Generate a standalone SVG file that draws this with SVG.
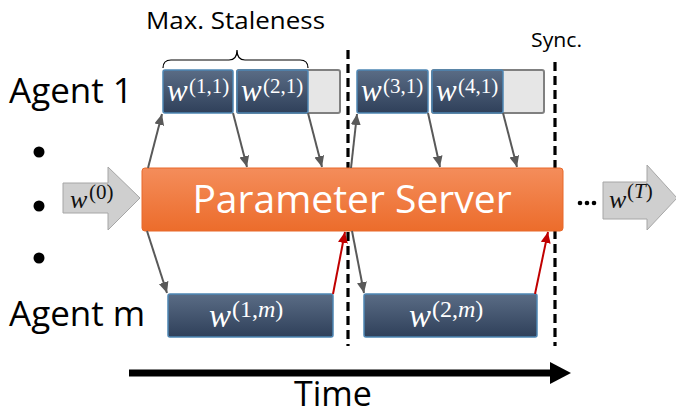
<svg xmlns="http://www.w3.org/2000/svg" width="676" height="416" viewBox="0 0 676 416">
  <defs>
    <linearGradient id="gBlue" x1="0" y1="0" x2="0" y2="1">
      <stop offset="0" stop-color="#5A6C85"/>
      <stop offset="1" stop-color="#2F405A"/>
    </linearGradient>
    <linearGradient id="gOrange" x1="0" y1="0" x2="0" y2="1">
      <stop offset="0" stop-color="#F48D5B"/>
      <stop offset="1" stop-color="#EC6C2B"/>
    </linearGradient>
    <marker id="hGray" markerUnits="userSpaceOnUse" markerWidth="12" markerHeight="11" refX="11" refY="5" orient="auto">
      <path d="M0,0 L11,5 L0,10 z" fill="#595959"/>
    </marker>
    <marker id="hRed" markerUnits="userSpaceOnUse" markerWidth="12" markerHeight="11" refX="11" refY="5" orient="auto">
      <path d="M0,0 L11,5 L0,10 z" fill="#C00000"/>
    </marker>
  </defs>
  <style>
    .lbl { font-family: "Open Sans", "Liberation Sans", sans-serif; fill: #000; }
    .box { fill: url(#gBlue); stroke: #4E86B4; stroke-width: 1.5; }
    .slot { fill: #E6E6E6; stroke: #808080; stroke-width: 2; }
    .mw { font-family: "Liberation Serif", "DejaVu Serif", serif; font-style: italic; fill: #FFFFFF; }
    .ms { font-family: "Liberation Serif", "DejaVu Serif", serif; fill: #FFFFFF; }
    .dark { fill: #111111; }
    .sync { stroke: #000; stroke-width: 3.2; stroke-dasharray: 9 5; fill: none; }
    .g { stroke: #595959; stroke-width: 2; fill: none; marker-end: url(#hGray); }
    .r { stroke: #C00000; stroke-width: 2; fill: none; marker-end: url(#hRed); }
    .big { fill: #CFCFCF; stroke: #A6A6A6; stroke-width: 1; }
  </style>

  <!-- side labels -->
  <text class="lbl" x="9" y="103" font-size="35">Agent 1</text>
  <text class="lbl" x="9" y="326" font-size="35">Agent m</text>
  <circle cx="39" cy="152" r="5.5" fill="#000"/>
  <circle cx="39" cy="206" r="5.5" fill="#000"/>
  <circle cx="39" cy="258" r="5.5" fill="#000"/>

  <!-- staleness window -->
  <text class="lbl" x="146" y="29" font-size="23" textLength="179" lengthAdjust="spacingAndGlyphs">Max. Staleness</text>
  <path d="M163,68 Q163,60 171,60 L229,60 Q237,60 237,50 Q237,60 245,60 L300,60 Q308,60 308,68" fill="none" stroke="#000" stroke-width="1.2"/>
  <text class="lbl" x="531" y="47" font-size="20" textLength="51" lengthAdjust="spacingAndGlyphs">Sync.</text>

  <!-- synchronisation barriers -->
  <line class="sync" x1="348" y1="50" x2="348" y2="346"/>
  <line class="sync" x1="555" y1="62" x2="555" y2="346"/>

  <!-- agent 1 updates -->
  <g id="slot1"><rect class="slot" x="237" y="70" width="103" height="43" rx="2"/></g>
  <g id="slot2"><rect class="slot" x="432" y="70" width="112" height="43" rx="2"/></g>
  <g id="w11">
    <rect class="box" x="163" y="70" width="70" height="43" rx="2"/>
    <text class="mw" x="167" y="101" font-size="31">w</text>
    <text class="ms" x="189" y="93" font-size="21">(1,1)</text>
  </g>
  <g id="w21">
    <rect class="box" x="237" y="70" width="71" height="43" rx="2"/>
    <text class="mw" x="241" y="101" font-size="31">w</text>
    <text class="ms" x="263" y="93" font-size="21">(2,1)</text>
  </g>
  <g id="w31">
    <rect class="box" x="357" y="70" width="71" height="43" rx="2"/>
    <text class="mw" x="361" y="101" font-size="31">w</text>
    <text class="ms" x="383" y="93" font-size="21">(3,1)</text>
  </g>
  <g id="w41">
    <rect class="box" x="432" y="70" width="71" height="43" rx="2"/>
    <text class="mw" x="436" y="101" font-size="31">w</text>
    <text class="ms" x="458" y="93" font-size="21">(4,1)</text>
  </g>

  <!-- agent m updates -->
  <g id="w1m">
    <rect class="box" x="168" y="294" width="165" height="43" rx="2"/>
    <text class="mw" x="209" y="327" font-size="33">w</text>
    <text class="ms" x="232" y="317" font-size="24">(1,<tspan font-style="italic">m</tspan>)</text>
  </g>
  <g id="w2m">
    <rect class="box" x="364" y="294" width="173" height="43" rx="2"/>
    <text class="mw" x="409" y="327" font-size="33">w</text>
    <text class="ms" x="432" y="317" font-size="24">(2,<tspan font-style="italic">m</tspan>)</text>
  </g>

  <!-- initial and final parameters -->
  <g id="w0">
    <path class="big" d="M63,183 L108,183 L108,167 L140,198 L108,230 L108,213 L63,213 z"/>
    <text class="mw dark" x="70" y="208" font-size="26">w</text>
    <text class="ms dark" x="89" y="199" font-size="21">(0)</text>
  </g>
  <g id="wT">
    <path class="big" d="M603,182 L647,182 L647,165 L677,198 L647,230 L647,219 L603,219 z"/>
    <text class="mw dark" x="609" y="208" font-size="26">w</text>
    <text class="ms dark" x="627" y="198" font-size="21">(<tspan font-style="italic">T</tspan>)</text>
    <circle cx="580" cy="203" r="2.3" fill="#000"/>
    <circle cx="587" cy="203" r="2.3" fill="#000"/>
    <circle cx="594" cy="203" r="2.3" fill="#000"/>
  </g>

  <!-- parameter server -->
  <g id="server">
    <rect x="142" y="168" width="421" height="63" rx="3" fill="url(#gOrange)" stroke="#E8692A" stroke-width="1"/>
    <text x="352" y="213" font-size="39" text-anchor="middle" font-family="'Open Sans', 'Liberation Sans', sans-serif" fill="#FFFFFF">Parameter Server</text>
  </g>

  <!-- pulls and pushes -->
  <g id="connectors">
    <line class="g" x1="148" y1="168" x2="162" y2="114"/>
    <line class="g" x1="233" y1="113" x2="247" y2="167"/>
    <line class="g" x1="308" y1="113" x2="322" y2="167"/>
    <line class="g" x1="351" y1="168" x2="357" y2="114"/>
    <line class="g" x1="428" y1="113" x2="440" y2="167"/>
    <line class="g" x1="503" y1="113" x2="517" y2="167"/>
    <line class="g" x1="147" y1="231" x2="167" y2="293"/>
    <line class="g" x1="352" y1="231" x2="364" y2="293"/>
    <line class="r" x1="333" y1="294" x2="345" y2="232"/>
    <line class="r" x1="535" y1="294" x2="548" y2="232"/>
  </g>

  <!-- time axis -->
  <g id="time">
    <line x1="129" y1="373" x2="552" y2="373" stroke="#000" stroke-width="7"/>
    <path d="M550,362 L571,373 L550,384 z" fill="#000"/>
    <text class="lbl" x="333" y="406" font-size="34" text-anchor="middle">Time</text>
  </g>
</svg>
